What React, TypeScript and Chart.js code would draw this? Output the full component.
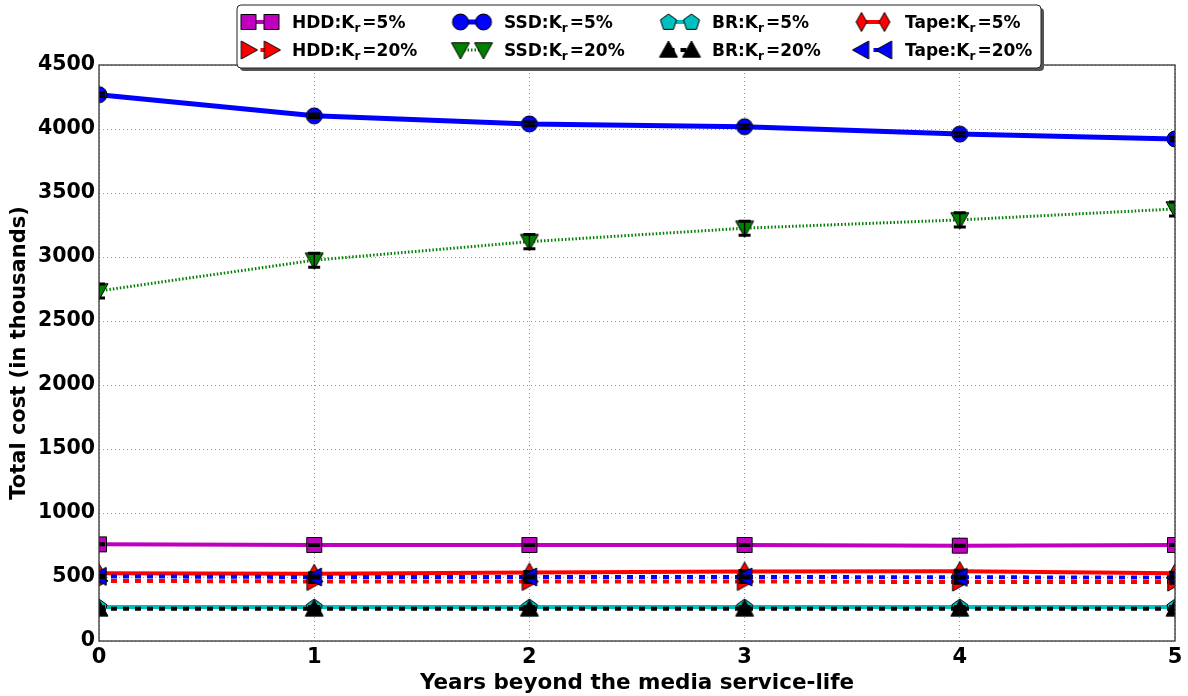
import { useEffect, useRef } from 'react';
import { Chart, registerables } from 'chart.js';

Chart.register(...registerables);

// ---------- data ----------
const years = [0, 1, 2, 3, 4, 5];

const hdd5 = [755, 750, 750, 750, 745, 750];
const ssd5 = [4268, 4103, 4040, 4018, 3960, 3922];
const br5 = [266, 266, 266, 266, 266, 266];
const tape5 = [530, 525, 535, 542, 545, 530];
const hdd20 = [470, 465, 465, 465, 460, 460];
const ssd20 = [2735, 2975, 3120, 3225, 3290, 3375];
const br20 = [251, 251, 251, 251, 251, 251];
const tape20 = [505, 500, 500, 500, 498, 495];

// error (half-range) values shown as error-bar caps
const hdd5Err = [4, 4, 4, 4, 4, 4];
const ssd5Err = [14, 14, 14, 14, 14, 14];
const br5Err = [4, 4, 4, 4, 4, 4];
const tape5Err = [8, 8, 8, 8, 8, 8];
const hdd20Err = [8, 8, 8, 8, 8, 8];
const ssd20Err = [55, 55, 55, 55, 55, 55];
const br20Err = [4, 4, 4, 4, 4, 4];
const tape20Err = [8, 8, 8, 8, 8, 8];

const media = ['HDD', 'SSD', 'BR', 'Tape'];
const rates = ['5%', '20%'];

const yTitle = 'Total cost (in thousands)';
const xTitle = 'Years beyond the media service-life';

const FONT = "'DejaVu Sans', 'Liberation Sans', sans-serif";

// ---------- markers ----------
type Shape = 'square' | 'circle' | 'pentagon' | 'thinDiamond' | 'triRight' | 'triDown' | 'triUp' | 'triLeft';

function makeMarker(shape: Shape, fill: string): HTMLCanvasElement {
  const size = 22;
  const c = document.createElement('canvas');
  c.width = size;
  c.height = size;
  const ctx = c.getContext('2d')!;
  const cx = size / 2;
  const cy = size / 2;
  ctx.beginPath();
  const poly = (pts: number[][]) => {
    pts.forEach((p, i) => (i === 0 ? ctx.moveTo(cx + p[0], cy + p[1]) : ctx.lineTo(cx + p[0], cy + p[1])));
    ctx.closePath();
  };
  const r = 9;
  switch (shape) {
    case 'square':
      ctx.rect(cx - 7.5, cy - 7.5, 15, 15);
      break;
    case 'circle':
      ctx.arc(cx, cy, 8, 0, Math.PI * 2);
      break;
    case 'pentagon': {
      const pts: number[][] = [];
      for (let i = 0; i < 5; i++) {
        const a = -Math.PI / 2 + (i * 2 * Math.PI) / 5;
        pts.push([Math.cos(a) * 8.5, Math.sin(a) * 8.5 + 0.5]);
      }
      poly(pts);
      break;
    }
    case 'thinDiamond':
      poly([[0, -r - 0.5], [r * 0.6, 0], [0, r + 0.5], [-r * 0.6, 0]]);
      break;
    case 'triRight':
      poly([[r, 0], [-r * 0.8, -r], [-r * 0.8, r]]);
      break;
    case 'triLeft':
      poly([[-r, 0], [r * 0.8, -r], [r * 0.8, r]]);
      break;
    case 'triUp':
      poly([[0, -r], [r, r * 0.8], [-r, r * 0.8]]);
      break;
    case 'triDown':
      poly([[0, r], [r, -r * 0.8], [-r, -r * 0.8]]);
      break;
  }
  ctx.fillStyle = fill;
  ctx.fill();
  ctx.lineWidth = 1;
  ctx.strokeStyle = '#000';
  ctx.stroke();
  return c;
}

// ---------- series styles ----------
interface Series {
  media: string;
  rate: string;
  values: number[];
  errs: number[];
  color: string;
  width: number;
  dash: number[];
  shape: Shape;
  row: number;
  col: number;
}

const series: Series[] = [
  { media: media[0], rate: rates[0], values: hdd5, errs: hdd5Err, color: '#bf00bf', width: 4, dash: [], shape: 'square', row: 0, col: 0 },
  { media: media[0], rate: rates[1], values: hdd20, errs: hdd20Err, color: '#ff0000', width: 4, dash: [6, 6], shape: 'triRight', row: 1, col: 0 },
  { media: media[1], rate: rates[0], values: ssd5, errs: ssd5Err, color: '#0000ff', width: 5, dash: [], shape: 'circle', row: 0, col: 1 },
  { media: media[1], rate: rates[1], values: ssd20, errs: ssd20Err, color: '#008000', width: 3, dash: [1.5, 2], shape: 'triDown', row: 1, col: 1 },
  { media: media[2], rate: rates[0], values: br5, errs: br5Err, color: '#00bfbf', width: 4, dash: [], shape: 'pentagon', row: 0, col: 2 },
  { media: media[2], rate: rates[1], values: br20, errs: br20Err, color: '#000000', width: 4, dash: [6, 6], shape: 'triUp', row: 1, col: 2 },
  { media: media[3], rate: rates[0], values: tape5, errs: tape5Err, color: '#ff0000', width: 4, dash: [], shape: 'thinDiamond', row: 0, col: 3 },
  { media: media[3], rate: rates[1], values: tape20, errs: tape20Err, color: '#0000ff', width: 4, dash: [6, 6], shape: 'triLeft', row: 1, col: 3 },
];

export default function App() {
  const ref = useRef<HTMLCanvasElement | null>(null);

  useEffect(() => {
    const canvas = ref.current;
    if (!canvas) return;
    const markers = series.map((s) => makeMarker(s.shape, s.color));

    const errorBars = {
      id: 'errorBars',
      afterDatasetDraw(chart: any, args: any) {
        const s = series[args.index];
        if (!s) return;
        const ctx = chart.ctx;
        const area = chart.chartArea;
        const ys = chart.scales.y;
        ctx.save();
        ctx.beginPath();
        ctx.rect(area.left, area.top, area.right - area.left, area.bottom - area.top);
        ctx.clip();
        ctx.strokeStyle = '#000';
        args.meta.data.forEach((pt: any, i: number) => {
          const v = s.values[i];
          const e = s.errs[i];
          const yTop = ys.getPixelForValue(v + e);
          const yBot = ys.getPixelForValue(v - e);
          ctx.lineWidth = 1.5;
          ctx.beginPath();
          ctx.moveTo(pt.x, yTop);
          ctx.lineTo(pt.x, yBot);
          ctx.stroke();
          ctx.lineWidth = 3;
          ctx.beginPath();
          ctx.moveTo(pt.x - 6, yTop);
          ctx.lineTo(pt.x + 6, yTop);
          ctx.moveTo(pt.x - 6, yBot);
          ctx.lineTo(pt.x + 6, yBot);
          ctx.stroke();
        });
        ctx.restore();
      },
    };

    const frameAndLegend = {
      id: 'frameAndLegend',
      afterDraw(chart: any) {
        const ctx = chart.ctx;
        const a = chart.chartArea;
        ctx.save();
        ctx.strokeStyle = '#333';
        ctx.lineWidth = 1.3;
        ctx.strokeRect(a.left, a.top, a.right - a.left, a.bottom - a.top);

        // legend box
        const bx = 237, by = 5, bw = 804, bh = 63;
        const rr = 4;
        const rounded = (x: number, y: number) => {
          ctx.beginPath();
          ctx.moveTo(x + rr, y);
          ctx.lineTo(x + bw - rr, y);
          ctx.quadraticCurveTo(x + bw, y, x + bw, y + rr);
          ctx.lineTo(x + bw, y + bh - rr);
          ctx.quadraticCurveTo(x + bw, y + bh, x + bw - rr, y + bh);
          ctx.lineTo(x + rr, y + bh);
          ctx.quadraticCurveTo(x, y + bh, x, y + bh - rr);
          ctx.lineTo(x, y + rr);
          ctx.quadraticCurveTo(x, y, x + rr, y);
          ctx.closePath();
        };
        rounded(bx + 3, by + 3);
        ctx.fillStyle = '#555';
        ctx.fill();
        rounded(bx, by);
        ctx.fillStyle = '#fff';
        ctx.fill();
        ctx.strokeStyle = '#222';
        ctx.lineWidth = 1;
        ctx.stroke();

        const colX = [240, 452, 660, 853];
        const rowY = [22, 50];
        series.forEach((s, i) => {
          const x0 = colX[s.col];
          const y0 = rowY[s.row];
          const m1 = x0 + 8.5;
          const m2 = x0 + 31.5;
          ctx.save();
          ctx.strokeStyle = s.color;
          ctx.lineWidth = s.width;
          ctx.setLineDash(s.dash);
          ctx.beginPath();
          ctx.moveTo(m1, y0);
          ctx.lineTo(m2, y0);
          ctx.stroke();
          ctx.restore();
          const mk = markers[i];
          ctx.drawImage(mk, m1 - mk.width / 2, y0 - mk.height / 2);
          ctx.drawImage(mk, m2 - mk.width / 2, y0 - mk.height / 2);
          // text with subscript
          let tx = x0 + 52;
          ctx.fillStyle = '#000';
          ctx.textBaseline = 'alphabetic';
          ctx.textAlign = 'left';
          const base = y0 + 6;
          ctx.font = `bold 17px ${FONT}`;
          const t1 = `${s.media}:K`;
          ctx.fillText(t1, tx, base);
          tx += ctx.measureText(t1).width;
          ctx.font = `bold 12px ${FONT}`;
          ctx.fillText('r', tx, base + 4);
          tx += ctx.measureText('r').width + 2;
          ctx.font = `bold 17px ${FONT}`;
          ctx.fillText(`=${s.rate}`, tx, base);
        });
        ctx.restore();
      },
    };

    const order = [7, 6, 5, 4, 3, 2, 1, 0];
    const chart = new Chart(canvas, {
      type: 'line',
      data: {
        datasets: series.map((s, i) => ({
          label: `${s.media}:Kr=${s.rate}`,
          data: years.map((x, j) => ({ x, y: s.values[j] })),
          borderColor: s.color,
          backgroundColor: s.color,
          borderWidth: s.width,
          borderDash: s.dash,
          pointStyle: markers[i],
          pointRadius: 8,
          pointHoverRadius: 8,
          tension: 0,
          clip: 0,
          order: order[i],
        })),
      },
      options: {
        animation: false,
        responsive: false,
        devicePixelRatio: 1,
        events: [],
        layout: { padding: { top: 65, right: 8, left: 0, bottom: 0 } },
        plugins: {
          legend: { display: false },
          tooltip: { enabled: false },
        },
        scales: {
          x: {
            type: 'linear',
            min: 0,
            max: 5,
            ticks: {
              stepSize: 1,
              color: '#000',
              padding: 4,
              font: { family: FONT, size: 21, weight: 'bold' },
              callback: (v: any) => String(v),
            },
            grid: { color: '#9a9a9a', lineWidth: 1, drawTicks: false },
            border: { display: false, dash: [1, 3] },
            title: {
              display: true,
              text: xTitle,
              color: '#000',
              font: { family: FONT, size: 21.5, weight: 'bold' },
              padding: { top: 0, bottom: 0 },
            },
            afterFit: (scale: any) => {
              scale.height = 55;
            },
          },
          y: {
            type: 'linear',
            min: 0,
            max: 4500,
            ticks: {
              stepSize: 500,
              color: '#000',
              padding: 4,
              font: { family: FONT, size: 20.5, weight: 'bold' },
              callback: (v: any) => String(v),
            },
            grid: { color: '#9a9a9a', lineWidth: 1, drawTicks: false },
            border: { display: false, dash: [1, 3] },
            title: {
              display: true,
              text: yTitle,
              color: '#000',
              font: { family: FONT, size: 21, weight: 'bold' },
              padding: { top: 7, bottom: 0 },
            },
            afterFit: (scale: any) => {
              scale.width = 99;
            },
          },
        },
      },
      plugins: [errorBars, frameAndLegend],
    });

    return () => chart.destroy();
  }, []);

  return (
    <div style={{ position: 'fixed', left: 0, top: 0, width: 1188, height: 696, background: '#fff' }}>
      <canvas ref={ref} width={1188} height={696} style={{ display: 'block' }} />
    </div>
  );
}
